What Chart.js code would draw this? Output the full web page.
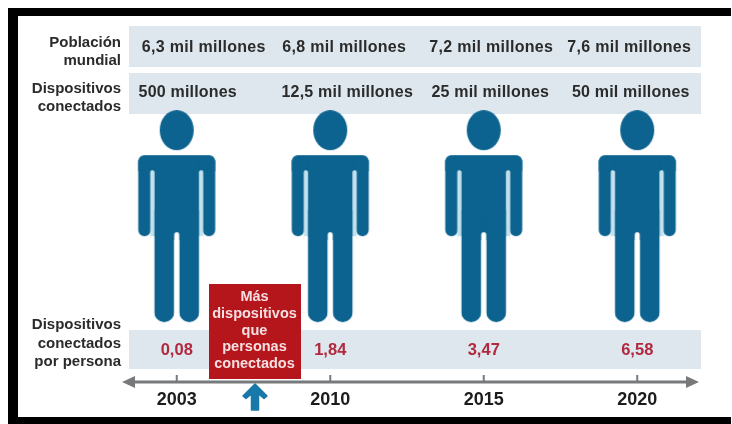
<!DOCTYPE html>
<html lang="es">
<head>
<meta charset="utf-8">
<title>Dispositivos conectados por persona</title>
<script src="https://cdn.jsdelivr.net/npm/chart.js@4"></script>
<style>
  html, body { margin: 0; padding: 0; background: #ffffff; }
  canvas { display: block; }
</style>
</head>
<body>
<canvas id="chart" width="732" height="424"></canvas>
<script>
// Data
const years = ['2003', '2010', '2015', '2020'];
const population = ['6,3 mil millones', '6,8 mil millones', '7,2 mil millones', '7,6 mil millones'];
const devices = ['500 millones', '12,5 mil millones', '25 mil millones', '50 mil millones'];
const devicesPerPerson = [0.08, 1.84, 3.47, 6.58];
const calloutLines = ['Más', 'dispositivos', 'que', 'personas', 'conectados'];

// Layout, in canvas pixels (the hidden y scale runs 1:1 with them)
const FONT = '"Liberation Sans", Arial, sans-serif';
const BAND = { left: 129, right: 701 };
const FIGURE_ROW = 215;
const populationShift = [27, 14, 7.5, -8];
const devicesShift = [11, 17, 6.5, -6.5];

const COLORS = {
  band: '#dde7ed', figure: '#0c638f', slit: '#c4e2ee', text: '#2b2b2b',
  value: '#b1283f', callout: '#b5161c', axis: '#77797a', arrow: '#1878a9'
};

// Person pictogram used as the point style of the figure dataset
function makePerson() {
  const c = document.createElement('canvas');
  c.width = 80; c.height = 214;
  const g = c.getContext('2d');
  const cx = 40, top = 0;
  g.fillStyle = COLORS.figure;
  g.beginPath();
  g.ellipse(cx, top + 20, 17, 20, 0, 0, Math.PI * 2);
  g.fill();
  // Shoulders and arms
  g.beginPath();
  g.roundRect(cx - 38.5, top + 45, 77, 16, [6, 6, 0, 0]);
  g.fill();
  g.beginPath();
  g.roundRect(cx - 38.5, top + 50, 12.5, 76, [0, 0, 6, 6]);
  g.roundRect(cx + 26, top + 50, 12.5, 76, [0, 0, 6, 6]);
  g.fill();
  // Trunk and legs
  g.fillRect(cx - 22.5, top + 50, 45, 80);
  g.beginPath();
  g.roundRect(cx - 22.5, top + 100, 20, 112, [0, 0, 10, 10]);
  g.roundRect(cx + 2.5, top + 100, 20, 112, [0, 0, 10, 10]);
  g.fill();
  // Light gaps beside the arms and between the legs
  g.fillStyle = COLORS.slit;
  g.beginPath();
  g.roundRect(cx - 26.5, top + 60, 4, 70, [2, 2, 0, 0]);
  g.roundRect(cx + 22.5, top + 60, 4, 70, [2, 2, 0, 0]);
  g.fill();
  g.fillStyle = '#ffffff';
  g.fillRect(cx - 26.5, top + 126, 4, 90);
  g.fillRect(cx + 22.5, top + 126, 4, 90);
  g.beginPath();
  g.roundRect(cx - 2.5, top + 122, 5, 96, [2.5, 2.5, 0, 0]);
  g.fill();
  return c;
}

function drawLines(ctx, lines, x, ys, align, font, color, spacing) {
  ctx.save();
  ctx.font = font;
  ctx.fillStyle = color;
  ctx.textAlign = align;
  ctx.textBaseline = 'middle';
  if (spacing) ctx.letterSpacing = spacing;
  lines.forEach((t, i) => ctx.fillText(t, x, ys[i]));
  ctx.restore();
}

// Frame and the three pale rows behind the figures
const backdrop = {
  id: 'backdrop',
  beforeDraw(chart) {
    const { ctx, width, height } = chart;
    ctx.save();
    ctx.fillStyle = '#ffffff';
    ctx.fillRect(0, 0, width, height);
    ctx.fillStyle = '#000000';
    ctx.fillRect(8, 8, width - 9, 8);
    ctx.fillRect(8, 8, 10, height - 8);
    ctx.fillRect(8, 417, width - 9, 7);
    ctx.fillStyle = COLORS.band;
    [[26, 41], [73, 41], [330, 39]].forEach(([y, h]) => {
      ctx.fillRect(BAND.left, y, BAND.right - BAND.left, h);
    });
    ctx.restore();
  }
};

// Row headings, row values, time arrow and callout
const annotations = {
  id: 'annotations',
  afterDatasetsDraw(chart) {
    const { ctx, scales: { x } } = chart;
    const px = i => x.getPixelForValue(i);
    const axisY = chart.chartArea.bottom;

    // Time arrow with a tick above it for each year
    ctx.save();
    ctx.fillStyle = COLORS.axis;
    ctx.fillRect(132, axisY - 0.5, 556, 3);
    ctx.beginPath();
    ctx.moveTo(122, axisY + 1); ctx.lineTo(135, axisY - 5); ctx.lineTo(135, axisY + 7);
    ctx.closePath();
    ctx.moveTo(699, axisY + 1); ctx.lineTo(686, axisY - 5); ctx.lineTo(686, axisY + 7);
    ctx.closePath();
    ctx.fill();
    years.forEach((_, i) => ctx.fillRect(px(i) - 1, axisY - 6, 2, 6));
    ctx.restore();

    // Row headings
    const head = 'bold 15px ' + FONT;
    drawLines(ctx, ['Población', 'mundial'], 121, [43, 60.5], 'right', head, COLORS.text);
    drawLines(ctx, ['Dispositivos', 'conectados'], 121, [89, 107], 'right', head, COLORS.text);
    drawLines(ctx, ['Dispositivos', 'conectados', 'por persona'], 121, [325, 344, 362], 'right', head, COLORS.text);

    // Row values
    const rowFont = 'bold 16px ' + FONT;
    years.forEach((_, i) => {
      drawLines(ctx, [population[i]], px(i) + populationShift[i], [47.5], 'center', rowFont, COLORS.text, '0.3px');
      drawLines(ctx, [devices[i]], px(i) + devicesShift[i], [92.5], 'center', rowFont, COLORS.text, '0.2px');
      const v = devicesPerPerson[i].toFixed(2).replace('.', ',');
      drawLines(ctx, [v], px(i), [350.5], 'center', 'bold 16.5px ' + FONT, COLORS.value);
    });

    // Callout and up arrow between the first two years
    const mid = (px(0) + px(1)) / 2;
    ctx.save();
    ctx.fillStyle = COLORS.callout;
    ctx.fillRect(mid - 44.5, 284, 92, 95);
    ctx.fillStyle = COLORS.arrow;
    ctx.strokeStyle = COLORS.arrow;
    ctx.lineWidth = 1.5;
    ctx.lineJoin = 'round';
    ctx.beginPath();
    ctx.moveTo(mid + 1.5, 384);
    ctx.lineTo(mid + 13.5, 396);
    ctx.lineTo(mid + 10.5, 398.5);
    ctx.lineTo(mid + 5, 394);
    ctx.lineTo(mid + 5, 410);
    ctx.lineTo(mid - 2, 410);
    ctx.lineTo(mid - 2, 394);
    ctx.lineTo(mid - 7.5, 398.5);
    ctx.lineTo(mid - 10.5, 396);
    ctx.closePath();
    ctx.fill();
    ctx.stroke();
    ctx.restore();
    drawLines(ctx, calloutLines, mid + 1, [297, 314, 330.5, 347, 363.5], 'center', 'bold 14.5px ' + FONT, '#f6dfe0');
  }
};

new Chart(document.getElementById('chart'), {
  type: 'scatter',
  data: {
    labels: years,
    datasets: [{
      label: 'Personas',
      data: years.map(year => ({ x: year, y: FIGURE_ROW })),
      pointStyle: makePerson(),
      clip: false,
      showLine: false
    }]
  },
  plugins: [backdrop, annotations],
  options: {
    responsive: false,
    animation: false,
    events: [],
    layout: { padding: { left: 100, right: 18, top: 0, bottom: 0 } },
    plugins: { legend: { display: false }, tooltip: { enabled: false } },
    scales: {
      x: {
        type: 'category',
        offset: true,
        afterFit(scale) { scale.height = 43; },
        border: { display: false },
        grid: { display: false },
        ticks: {
          color: '#1c1c1c',
          padding: 0,
          maxRotation: 0,
          font: { family: FONT, size: 18, weight: 'bold' }
        }
      },
      y: { display: false, reverse: true, min: 0, max: 381 }
    }
  }
});
</script>
</body>
</html>
